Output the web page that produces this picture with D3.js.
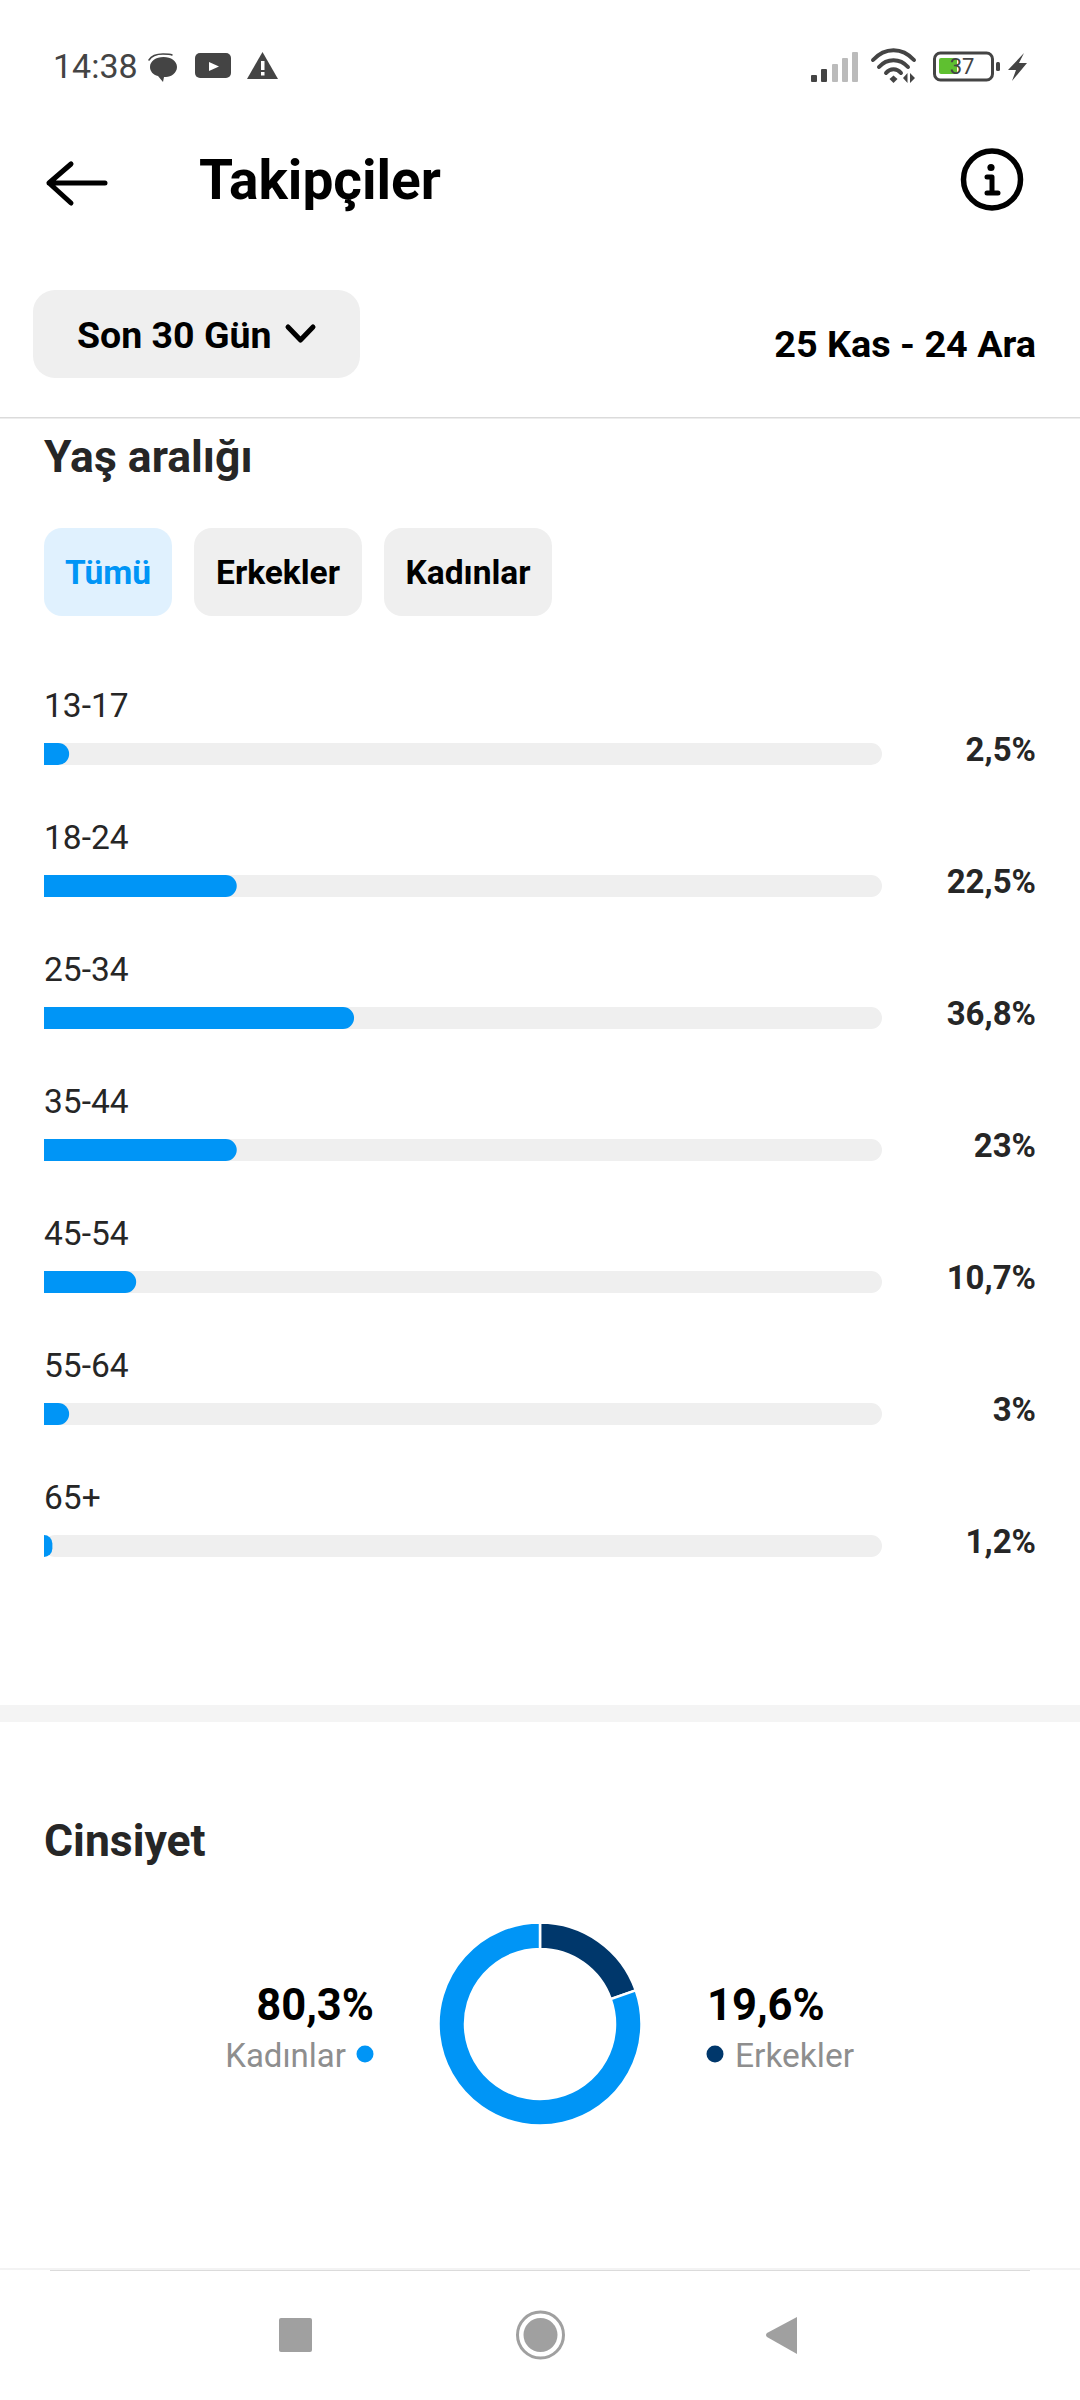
<!DOCTYPE html>
<meta charset="utf-8" />
<script src="https://d3js.org/d3.v7.min.js"></script>
<style>
  body { margin: 0; background: #fff; }
  svg { display: block; }
  text { font-family: Roboto, sans-serif; }
</style>
<svg width="1080" height="2400"></svg>
<script>
  // age ranges
  var ageLabels = ["13-17", "18-24", "25-34", "35-44", "45-54", "55-64", "65+"];
  var ageValues = [2.5, 22.5, 36.8, 23, 10.7, 3, 1.2];

  // gender
  var genderLabels = ["Erkekler", "Kadınlar"];
  var genderValues = [19.6, 80.3];

  var filterLabels = ["Tümü", "Erkekler", "Kadınlar"];

  var blue = "#0095f6", navy = "#00376b", ink = "#262626", track = "#efefef", grey = "#a0a0a0", status = "#444";

  var svg = d3.select("svg");

  function label(x, y, str, size, weight, fill, anchor) {
    return svg.append("text").attr("x", x).attr("y", y).text(str)
      .attr("font-size", size).attr("font-weight", weight)
      .attr("fill", fill).attr("text-anchor", anchor || "start");
  }
  function shape(d, fill) {
    return svg.append("path").attr("d", d).attr("fill", fill || "none");
  }
  function line(d, color, w) {
    return svg.append("path").attr("d", d).attr("fill", "none").attr("stroke", color).attr("stroke-width", w)
      .attr("stroke-linecap", "round").attr("stroke-linejoin", "round");
  }

  // ---- status bar
  label(53, 78, "14:38", 34, 400, status);
  shape("M150 67C150 61 156 57 163.5 57C171 57 177 61 177 67C177 73 171 77 166 77L164 77L163 82L158 76C153 75 150 71 150 67Z", status);
  line("M149 60C152 55 158 54 163 54C167 54 170 54 172 55", status, 1.5);
  svg.append("rect").attr("x", 195).attr("y", 53).attr("width", 36).attr("height", 25).attr("rx", 5).attr("fill", status);
  shape("M209 62L219 66.5L209 71Z", "#fff");
  shape("M262.5 52L278 79L247 79Z", status);
  svg.append("rect").attr("x", 261).attr("y", 61).attr("width", 3.5).attr("height", 9).attr("fill", "#fff");
  svg.append("rect").attr("x", 261).attr("y", 72).attr("width", 3.5).attr("height", 3.5).attr("fill", "#fff");

  // signal
  [[811, 75, status], [821, 69, status], [832, 64, "#bbb"], [842, 58, "#bbb"], [852, 52, "#bbb"]].forEach(function (b) {
    svg.append("rect").attr("x", b[0]).attr("y", b[1]).attr("width", 6).attr("height", 82 - b[1]).attr("rx", 1).attr("fill", b[2]);
  });
  // wifi
  ["M873 60C885 47 902 47 914 60", "M879 67C887 58 900 58 908 67", "M886 73C890 68 897 68 901 73"].forEach(function (d) {
    line(d, status, 4);
  });
  shape("M889.5 79L893.5 75.5L897.5 79L893.5 83Z", status);
  shape("M903 78L907.5 73L907.5 83Z M910 73L915 78L910 83Z", status);
  // battery
  svg.append("rect").attr("x", 934.5).attr("y", 53).attr("width", 58).attr("height", 27).attr("rx", 6).attr("fill", "none").attr("stroke", status).attr("stroke-width", 3);
  svg.append("rect").attr("x", 939).attr("y", 58).attr("width", 18).attr("height", 16).attr("rx", 2).attr("fill", "#5fc030");
  label(962, 74, "37", 22, 400, status, "middle");
  svg.append("rect").attr("x", 996).attr("y", 62).attr("width", 4).attr("height", 9).attr("rx", 1.5).attr("fill", status);
  shape("M1024 53L1008 70L1016 70L1012 81L1027 63L1019 63Z", status);

  // ---- header
  line("M71 164L49 183L71 203M49 183L105 183", "#000", 5);
  label(199, 199, "Takipçiler", 55, 700, "#000");
  svg.append("circle").attr("cx", 992).attr("cy", 179.5).attr("r", 28.5).attr("fill", "none").attr("stroke", "#000").attr("stroke-width", 5.5);
  svg.append("circle").attr("cx", 991).attr("cy", 167.5).attr("r", 3.6).attr("fill", "#000");
  line("M987 177L992 177L992 193M987 193L998 193", "#000", 5);

  // ---- period selector
  svg.append("rect").attr("x", 33).attr("y", 290).attr("width", 327).attr("height", 88).attr("rx", 22).attr("fill", track);
  label(77, 348, "Son 30 Gün", 37.5, 700, "#000");
  line("M288 327L300.5 340L313 327", "#000", 5);
  label(1036, 357, "25 Kas - 24 Ara", 37.8, 700, "#000", "end");
  svg.append("rect").attr("x", 0).attr("y", 417).attr("width", 1080).attr("height", 1.5).attr("fill", "#dbdbdb");

  // ---- age section
  label(44, 472, "Yaş aralığı", 44.5, 700, ink);

  var filterX = [44, 194, 384], filterW = [128, 168, 168];
  filterLabels.forEach(function (f, i) {
    svg.append("rect").attr("x", filterX[i]).attr("y", 528).attr("width", filterW[i]).attr("height", 88).attr("rx", 18)
      .attr("fill", i === 0 ? "#e0f1fe" : track);
    label(filterX[i] + filterW[i] / 2, 584, f, 33.5, 700, i === 0 ? blue : "#000", "middle");
  });

  // bars are drawn from the rounded percentage, as in the app
  var x = d3.scaleLinear().domain([0, 100]).range([44, 882]);
  var y = d3.scalePoint().domain(ageLabels).range([743, 743 + 132 * 6]);
  var barH = 22;

  var rows = svg.append("g").selectAll("g").data(ageLabels).enter().append("g");

  rows.append("text").attr("x", 44).attr("y", function (d) { return y(d) - 26; })
    .text(function (d) { return d; })
    .attr("font-size", 33.5).attr("fill", ink);

  rows.append("rect").attr("x", x(0)).attr("y", function (d) { return y(d); })
    .attr("width", x(100) - x(0)).attr("height", barH).attr("rx", barH / 2).attr("fill", track);

  rows.append("path").attr("fill", blue).attr("d", function (d, i) {
    var x1 = x(Math.round(ageValues[i])), y0 = y(d), x0 = x(0);
    var r = Math.min(barH / 2, x1 - x0);
    var p = d3.path();
    p.moveTo(x0, y0);
    p.lineTo(x1 - r, y0);
    p.arcTo(x1, y0, x1, y0 + r, r);
    p.lineTo(x1, y0 + barH - r);
    p.arcTo(x1, y0 + barH, x1 - r, y0 + barH, r);
    p.lineTo(x0, y0 + barH);
    p.closePath();
    return p.toString();
  });

  rows.append("text").attr("x", 1036).attr("y", function (d) { return y(d) + 18; })
    .attr("text-anchor", "end").attr("font-size", 33).attr("font-weight", 700).attr("fill", ink)
    .text(function (d, i) { return String(ageValues[i]).replace(".", ",") + "%"; });

  svg.append("rect").attr("x", 0).attr("y", 1705).attr("width", 1080).attr("height", 17).attr("fill", "#f4f4f4");

  // ---- gender section
  label(44, 1856, "Cinsiyet", 44.5, 700, ink);

  var pie = d3.pie().sort(null);
  var arc = d3.arc().innerRadius(75).outerRadius(101.5);
  var donut = svg.append("g").attr("transform", "translate(540,2024)");
  donut.selectAll("path").data(pie(genderValues)).enter().append("path")
    .attr("d", arc)
    .attr("fill", function (d, i) { return i === 0 ? navy : blue; })
    .attr("stroke", "#fff").attr("stroke-width", 2.5);

  function pct(v) { return String(v).replace(".", ",") + "%"; }

  label(374, 2020, pct(genderValues[1]), 43.5, 700, "#000", "end");
  label(346, 2067, genderLabels[1], 33, 400, "#8e8e8e", "end");
  svg.append("circle").attr("cx", 365).attr("cy", 2054).attr("r", 8.5).attr("fill", blue);

  label(707, 2020, pct(genderValues[0]), 43.5, 700, "#000");
  label(735, 2067, genderLabels[0], 33.5, 400, "#8e8e8e");
  svg.append("circle").attr("cx", 715).attr("cy", 2054).attr("r", 8.5).attr("fill", navy);

  // ---- nav bar
  svg.append("rect").attr("x", 0).attr("y", 2268).attr("width", 1080).attr("height", 2).attr("fill", "#f3f3f3");
  svg.append("rect").attr("x", 50).attr("y", 2270).attr("width", 980).attr("height", 1).attr("fill", "#dbdbdb");
  svg.append("rect").attr("x", 279).attr("y", 2318).attr("width", 33).attr("height", 34).attr("rx", 2).attr("fill", grey);
  svg.append("circle").attr("cx", 540.5).attr("cy", 2335).attr("r", 23).attr("fill", "none").attr("stroke", grey).attr("stroke-width", 3);
  svg.append("circle").attr("cx", 540.5).attr("cy", 2335).attr("r", 17).attr("fill", grey);
  shape("M797 2317L797 2354L767 2337Q765 2335 767 2333Z", grey);
</script>
